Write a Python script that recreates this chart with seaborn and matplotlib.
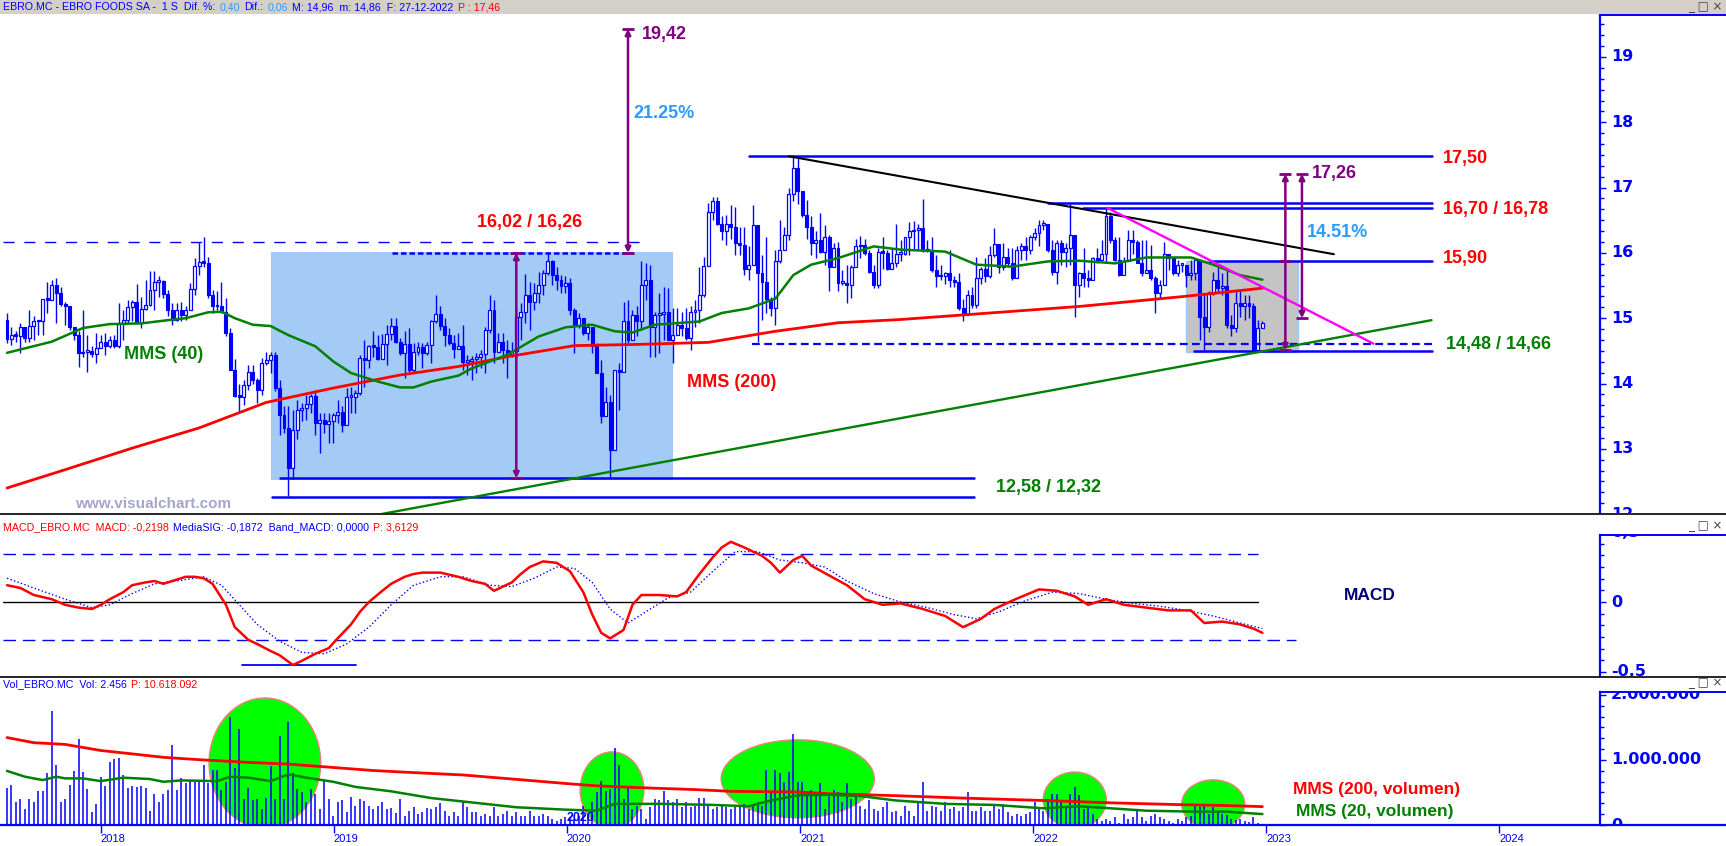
import numpy as np
import pandas as pd
import matplotlib
matplotlib.use('Agg')
import matplotlib.pyplot as plt
import matplotlib.dates as mdates
import seaborn as sns
from matplotlib.lines import Line2D
from matplotlib.patches import Rectangle, Ellipse
from matplotlib.text import Annotation
from matplotlib.ticker import MultipleLocator
from matplotlib.transforms import Bbox, TransformedBbox, blended_transform_factory

# ---------------- data ----------------
FIRST_WEEK = '2017-08-07'
FIRST_OPEN = 14.98

CLOSES = [
    14.68, 14.75, 14.73, 14.87, 14.70, 14.88, 14.95, 14.95, 15.29, 15.28,
    15.51, 15.39, 15.22, 15.18, 14.87, 14.74, 14.46, 14.49, 14.50, 14.45,
    14.54, 14.64, 14.57, 14.67, 14.57, 14.91, 14.98, 15.17, 15.25, 14.93,
    15.14, 15.20, 15.43, 15.56, 15.57, 15.37, 15.13, 14.97, 15.13, 15.05,
    15.13, 15.44, 15.80, 15.86, 15.85, 15.36, 15.18, 15.19, 15.10, 14.77,
    14.21, 13.81, 13.80, 13.98, 14.18, 14.06, 13.90, 14.32, 14.36, 14.43,
    13.93, 13.52, 13.32, 12.70, 13.29, 13.60, 13.62, 13.69, 13.81, 13.39,
    13.44, 13.38, 13.42, 13.52, 13.57, 13.37, 13.80, 13.80, 13.86, 14.39,
    14.36, 14.57, 14.56, 14.38, 14.60, 14.76, 14.88, 14.64, 14.46, 14.60,
    14.21, 14.49, 14.56, 14.47, 14.59, 14.95, 15.07, 14.88, 14.74, 14.62,
    14.53, 14.57,
    14.33, 14.35, 14.37, 14.41, 14.45, 14.82, 15.13, 14.49, 14.64, 14.52,
    14.45, 14.50, 15.02, 15.10, 15.36, 15.25, 15.38, 15.51, 15.69, 15.87,
    15.66, 15.59, 15.49, 15.54, 15.13, 14.90, 15.00, 14.77, 14.87, 14.57,
    14.16, 13.50, 13.72, 12.98, 14.21, 14.18, 14.95, 14.67, 15.05, 14.95,
    15.51, 15.59, 14.87, 15.05, 15.06, 15.10, 14.67, 14.75, 14.90, 14.85,
    14.70, 15.10, 15.13, 15.36, 15.80, 16.63, 16.79, 16.45, 16.33, 16.44,
    16.40, 16.15, 16.12, 15.75, 15.81, 16.43, 15.69, 15.56, 15.30, 15.15,
    15.87, 16.05, 16.27, 16.90, 17.30, 16.95, 16.58, 16.40, 16.15, 16.20,
    16.02, 16.25, 15.79, 16.07, 15.54, 15.54, 15.51, 15.79, 16.10, 16.12,
    16.00, 15.71, 15.51, 16.02, 16.00, 15.76, 15.84, 15.99,
    15.99, 16.25, 16.33, 16.35, 16.38, 16.04, 16.04, 15.74, 15.64, 15.64,
    15.69, 15.59, 15.56, 15.15, 15.05, 15.35, 15.20, 15.61, 15.76, 15.64,
    15.97, 16.14, 15.79, 15.94, 15.84, 15.61, 16.05, 16.10, 16.04, 16.25,
    16.30, 16.43, 16.45, 16.04, 15.71, 16.15, 16.02, 16.07, 16.27, 15.51,
    15.69, 15.61, 15.59, 15.92, 15.89, 15.99, 16.57, 16.20, 15.89, 15.66,
    15.87, 16.20, 16.17, 15.84, 15.69, 15.74, 15.61, 15.38, 15.51, 15.99,
    15.92, 15.69, 15.82, 15.82, 15.66, 15.69, 15.89, 15.02, 14.87, 15.38,
    15.59, 15.46, 15.49, 14.90, 14.85, 15.23, 15.19, 15.24, 15.18, 14.51,
    14.85, 14.92,
]

HIGHS = [
    15.08, 14.87, 14.80, 14.92, 14.77, 15.13, 15.03, 14.97, 15.29, 15.56,
    15.59, 15.61, 15.48, 15.25, 15.18, 14.85, 14.80, 15.13, 14.74, 14.57,
    14.77, 14.74, 14.78, 14.72, 14.74, 15.23, 15.13, 15.28, 15.28, 15.52,
    15.33, 15.59, 15.72, 15.72, 15.64, 15.59, 15.43, 15.23, 15.23, 15.25,
    15.18, 15.54, 15.92, 16.16, 16.25, 15.94, 15.43, 15.41, 15.56, 15.31,
    14.85, 14.37, 14.00, 14.06, 14.29, 14.29, 14.08, 14.39, 14.49, 14.49,
    14.49, 14.06, 13.65, 13.65, 13.60, 13.75, 13.70, 13.83, 13.84, 13.90,
    13.55, 13.55, 13.55, 13.55, 13.75, 13.65, 13.93, 13.95, 13.90, 14.44,
    14.67, 14.59, 14.80, 14.74, 14.76, 14.90, 15.00, 15.00, 14.69, 14.81,
    14.85, 14.62, 14.64, 14.62, 14.64, 14.97, 15.36, 15.18, 15.00, 14.85,
    14.74, 14.77,
    14.90, 14.44, 14.42, 14.46, 14.52, 14.87, 15.36, 15.28, 14.77, 14.77,
    14.67, 14.64, 15.18, 15.23, 15.68, 15.56, 15.54, 15.71, 15.74, 16.02,
    15.89, 15.79, 15.66, 15.64, 15.61, 15.15, 15.08, 15.00, 14.92, 14.87,
    14.62, 14.36, 13.95, 13.83, 14.21, 14.31, 15.25, 15.28, 15.13, 15.18,
    15.87, 15.84, 15.82, 15.10, 15.38, 15.48, 15.46, 15.15, 15.15, 15.10,
    15.15, 15.18, 15.28, 15.79, 15.94, 16.76, 16.86, 16.86, 16.56, 16.58,
    16.73, 16.71, 16.40, 16.40, 16.10, 16.73, 16.33, 15.97, 16.25, 15.33,
    16.05, 16.50, 16.40, 17.00, 17.50, 17.45, 16.85, 16.81, 16.56, 16.33,
    16.61, 16.43, 16.27, 16.15, 16.17, 15.74, 15.82, 15.82, 16.22, 16.26,
    16.22, 16.05, 15.82, 16.07, 16.25, 16.05, 16.07, 16.45,
    16.20, 16.25, 16.48, 16.49, 16.45, 16.82, 16.20, 16.25, 15.97, 15.82,
    15.71, 16.04, 15.64, 15.69, 15.30, 15.43, 15.48, 15.94, 15.79, 15.92,
    16.10, 16.38, 16.10, 16.15, 16.07, 16.07, 16.10, 16.15, 16.25, 16.27,
    16.38, 16.50, 16.50, 16.45, 16.20, 16.20, 16.20, 16.15, 16.76, 16.04,
    15.71, 16.07, 15.74, 15.94, 16.07, 16.20, 16.71, 16.63, 16.25, 16.25,
    15.94, 16.35, 16.35, 16.20, 16.20, 16.20, 16.12, 15.64, 15.59, 16.17,
    15.99, 15.92, 15.89, 15.82, 15.82, 15.89, 15.92, 15.89, 15.38, 15.41,
    15.71, 15.79, 15.69, 15.76, 15.05, 15.43, 15.41, 15.36, 15.36, 15.24,
    14.97, 14.96,
]

LOWS = [
    14.62, 14.59, 14.64, 14.46, 14.63, 14.64, 14.67, 14.74, 14.74, 15.08,
    15.33, 14.92, 15.19, 14.90, 14.82, 14.67, 14.25, 14.41, 14.18, 14.41,
    14.31, 14.54, 14.44, 14.54, 14.54, 14.54, 14.67, 14.92, 14.95, 14.92,
    14.85, 15.13, 15.18, 15.13, 15.33, 15.31, 15.03, 14.90, 14.95, 14.95,
    14.97, 15.13, 15.36, 15.66, 15.79, 15.31, 15.08, 15.13, 15.08, 14.72,
    14.21, 13.80, 13.55, 13.67, 13.90, 13.99, 13.70, 13.83, 14.29, 14.16,
    13.88, 13.21, 13.24, 12.27, 12.53, 13.15, 13.42, 13.44, 13.55, 13.21,
    12.94, 13.24, 13.09, 13.09, 13.39, 13.25, 13.42, 13.55, 13.55, 13.83,
    13.95, 14.23, 14.41, 14.36, 14.46, 14.29, 14.67, 14.62, 14.44, 14.08,
    14.18, 14.16, 14.44, 14.23, 14.44, 14.31, 14.92, 14.82, 14.57, 14.59,
    14.39, 14.54,
    14.21, 14.13, 14.06, 14.16, 14.23, 14.16, 14.77, 14.31, 14.52, 14.31,
    14.08, 14.41, 14.41, 14.67, 14.92, 14.82, 15.13, 15.23, 15.36, 15.66,
    15.51, 15.43, 15.38, 15.38, 15.05, 14.46, 14.85, 14.74, 14.67, 14.46,
    14.16, 13.39, 13.50, 12.55, 12.98, 13.60, 14.23, 14.62, 14.77, 14.72,
    14.82, 15.28, 14.41, 14.41, 14.46, 14.67, 14.67, 14.31, 14.77, 14.72,
    14.67, 14.52, 14.87, 14.92, 15.33, 15.94, 16.50, 16.43, 16.20, 16.12,
    16.22, 15.97, 15.97, 15.66, 15.59, 15.82, 14.64, 14.97, 15.08, 15.03,
    14.90, 15.84, 16.12, 16.20, 16.80, 16.75, 16.55, 16.22, 15.97, 15.92,
    16.00, 15.82, 15.41, 15.84, 15.41, 15.51, 15.23, 15.31, 15.99, 15.92,
    15.97, 15.69, 15.46, 15.46, 15.76, 15.74, 15.82, 15.79,
    15.87, 15.97, 15.97, 16.04, 16.04, 16.02, 16.02, 15.71, 15.48, 15.59,
    15.53, 15.48, 15.48, 15.13, 14.95, 15.10, 15.15, 15.15, 15.53, 15.56,
    15.61, 15.94, 15.69, 15.74, 15.79, 15.59, 15.61, 15.89, 15.89, 15.99,
    16.20, 16.10, 16.35, 16.02, 15.66, 15.53, 15.81, 15.79, 15.81, 15.02,
    15.33, 15.48, 15.48, 15.61, 15.84, 15.89, 15.85, 16.15, 15.87, 15.64,
    15.74, 15.94, 15.99, 15.84, 15.64, 15.69, 15.59, 15.08, 15.31, 15.64,
    15.74, 15.66, 15.64, 15.71, 15.48, 15.59, 15.59, 14.67, 14.51, 14.79,
    15.36, 15.38, 15.36, 14.85, 14.72, 14.79, 15.02, 14.97, 15.00, 14.49,
    14.49, 14.86,
]

# moving averages sampled along the drawn curves (week index, value)
MMS40_WEEK = [0, 10, 17, 23, 30, 36, 40, 45, 48, 51, 55, 59, 63, 69, 73, 77, 83, 88, 91, 95,
              101, 104, 112, 119, 125, 131, 136, 140, 145, 155, 160, 166, 172, 176, 180, 186,
              194, 200, 210, 217, 225, 233, 240, 248, 255, 265, 270, 276, 281]
MMS40 = [14.47, 14.64, 14.85, 14.91, 14.92, 14.97, 15.00, 15.09, 15.10, 15.00, 14.90, 14.88,
         14.74, 14.57, 14.34, 14.16, 14.03, 13.94, 13.94, 14.03, 14.12, 14.23, 14.44, 14.72,
         14.86, 14.90, 14.80, 14.78, 14.90, 14.95, 15.08, 15.15, 15.30, 15.66, 15.82, 15.92,
         16.10, 16.05, 16.02, 15.82, 15.79, 15.87, 15.88, 15.84, 15.93, 15.93, 15.82, 15.66, 15.59]
MMS200_WEEK = [0, 13, 28, 43, 58, 73, 88, 101, 112, 127, 142, 157, 172, 186, 200, 218, 240,
               263, 270, 281]
MMS200 = [12.40, 12.68, 13.01, 13.32, 13.71, 13.93, 14.13, 14.26, 14.41, 14.58, 14.60, 14.63,
          14.80, 14.93, 14.98, 15.07, 15.18, 15.33, 15.38, 15.46]

MACD_WEEK = [0, 3, 6, 10, 13, 16, 19, 21, 23, 26, 28, 31, 33, 35, 38, 40, 42, 44, 46, 49, 51,
             54, 56, 59, 61, 64, 66, 69, 72, 74, 77, 79, 81, 84, 86, 89, 91, 93, 97, 101, 104,
             107, 109, 113, 115, 117, 120, 123, 126, 129, 131, 133, 135, 138, 140, 142, 146,
             150, 152, 155, 158, 160, 162, 165, 169, 171, 173, 176, 178, 180, 184, 188, 192,
             196, 200, 205, 210, 214, 218, 221, 225, 228, 231, 235, 239, 242, 246, 250, 255,
             260, 265, 268, 272, 276, 279, 281]
MACD = [0.12, 0.10, 0.05, 0.02, -0.02, -0.04, -0.05, -0.02, 0.02, 0.07, 0.12, 0.14, 0.15, 0.13,
        0.16, 0.18, 0.18, 0.17, 0.13, -0.02, -0.18, -0.27, -0.30, -0.35, -0.38, -0.45, -0.42,
        -0.37, -0.33, -0.26, -0.16, -0.07, 0.0, 0.08, 0.13, 0.18, 0.20, 0.21, 0.21, 0.18, 0.15,
        0.13, 0.08, 0.14, 0.20, 0.25, 0.29, 0.28, 0.22, 0.07, -0.09, -0.22, -0.26, -0.20,
        -0.02, 0.05, 0.05, 0.04, 0.07, 0.20, 0.32, 0.39, 0.43, 0.39, 0.33, 0.28, 0.21, 0.30,
        0.33, 0.26, 0.19, 0.12, 0.02, -0.02, -0.01, -0.05, -0.10, -0.18, -0.12, -0.05, 0.01,
        0.05, 0.09, 0.08, 0.04, -0.02, 0.02, -0.02, -0.04, -0.06, -0.06, -0.15, -0.14, -0.16,
        -0.19, -0.22]
SIGNAL_WEEK = [0, 6, 13, 19, 23, 28, 33, 38, 44, 48, 52, 56, 61, 66, 71, 76, 81, 86, 91, 97,
               102, 108, 113, 118, 123, 127, 131, 135, 139, 143, 148, 153, 158, 163, 168, 173,
               178, 183, 188, 194, 200, 206, 212, 217, 222, 228, 234, 240, 246, 252, 258, 264,
               270, 276, 281]
SIGNAL = [0.17, 0.10, 0.02, -0.04, -0.02, 0.06, 0.13, 0.15, 0.18, 0.12, -0.02, -0.16, -0.28,
          -0.36, -0.37, -0.30, -0.18, -0.02, 0.12, 0.18, 0.18, 0.12, 0.11, 0.17, 0.25, 0.24,
          0.14, -0.05, -0.15, -0.07, 0.03, 0.07, 0.22, 0.36, 0.36, 0.30, 0.28, 0.25, 0.15, 0.06,
          0.0, -0.04, -0.09, -0.12, -0.07, 0.01, 0.07, 0.06, 0.02, -0.01, -0.03, -0.06, -0.10,
          -0.15, -0.19]

# weekly volume, thousands of shares
VOLUME = [
    571, 613, 351, 404, 247, 404, 351, 518, 518, 806,
    1753, 916, 351, 404, 613, 832, 1319, 822, 560, 205,
    325, 743, 597, 968, 1015, 1031, 770, 571, 602, 586,
    597, 571, 220, 482, 351, 482, 534, 1230, 534, 717,
    644, 691, 665, 691, 916, 639, 848, 848, 534, 665,
    1669, 874, 1476, 393, 571, 377, 404, 247, 414, 900,
    404, 1371, 404, 1580, 796, 560, 508, 351, 560, 482,
    247, 691, 404, 131, 351, 377, 194, 430, 299, 404,
    362, 288, 247, 299, 351, 247, 257, 184, 404, 142,
    220, 273, 168, 194, 257, 247, 273, 341, 220, 142,
    194, 142, 351, 273, 194, 194, 142, 168, 131, 273,
    142, 168, 220, 142, 205, 131, 131, 220, 131, 131,
    168, 142, 90, 60, 90, 120, 116, 90, 131, 299,
    168, 351, 508, 675, 518, 560, 1188, 926, 404, 586,
    247, 299, 247, 90, 273, 393, 377, 518, 377, 351,
    404, 273, 351, 273, 299, 414, 414, 299, 247, 273,
    299, 273, 247, 273, 273, 325, 247, 299, 351, 299,
    848, 508, 848, 796, 665, 822, 1397, 665, 665, 508,
    534, 482, 639, 247, 482, 534, 508, 351, 639, 404,
    445, 299, 247, 377, 247, 220, 273, 351, 194, 220,
    142, 299, 220, 142, 351, 654, 220, 299, 273, 220,
    351, 247, 273, 220, 273, 508, 220, 220, 273, 220,
    220, 299, 247, 325, 194, 142, 168, 142, 168, 194,
    351, 273, 220, 404, 482, 482, 377, 299, 482, 586,
    456, 247, 273, 168, 90, 63, 90, 63, 116, 37,
    168, 90, 116, 220, 116, 63, 142, 168, 116, 90,
    63, 37, 90, 63, 116, 142, 299, 273, 299, 168,
    273, 220, 168, 158, 90, 80, 90, 63, 52, 116,
    37, 3,
]
VOL_MMS200_WEEK = [0, 6, 13, 21, 28, 35, 43, 54, 63, 73, 82, 91, 102, 114, 125, 132, 143, 154,
                   162, 177, 184, 199, 214, 232, 247, 262, 273, 281]
VOL_MMS200 = [1345, 1266, 1240, 1146, 1094, 1041, 1005, 963, 937, 885, 838, 806, 770, 702, 639,
              602, 571, 545, 518, 508, 482, 451, 414, 377, 341, 314, 299, 283]
VOL_MMS20_WEEK = [0, 4, 8, 11, 13, 17, 21, 26, 32, 35, 39, 47, 50, 54, 59, 63, 67, 73, 78, 86,
                  95, 102, 114, 125, 132, 136, 147, 158, 166, 171, 177, 184, 191, 199, 210, 221,
                  232, 240, 247, 255, 266, 273, 281]
VOL_MMS20 = [832, 743, 691, 743, 717, 717, 675, 728, 707, 665, 686, 675, 743, 728, 675, 780, 728,
             665, 586, 518, 414, 362, 273, 236, 220, 325, 325, 309, 288, 377, 456, 466, 445, 377,
             325, 309, 257, 288, 257, 220, 205, 205, 168]

# drawn studies on the price panel
SOLID_LEVELS = [17.49, 16.77, 16.68, 15.88, 14.50, 12.55, 12.26]
SOLID_FROM = ['2020-10-13', '2022-01-24', '2022-03-20', '2022-10-05', '2022-09-10',
              '2018-10-08', '2018-09-26']
SOLID_TO = ['2023-09-17', '2023-09-17', '2023-09-17', '2023-09-17', '2023-09-17',
            '2021-09-30', '2021-09-30']
RESIST_OLD = 16.17
RESIST_OLD_SPAN = ['2017-07-31', '2020-05-01']
RANGE_TOP = 16.00
RANGE_TOP_SPAN = ['2019-04-02', '2020-04-14']
SUPPORT_DASH = 14.61
SUPPORT_DASH_SPAN = ['2020-10-17', '2023-09-17']

GREEN_TREND = (['2019-03-05', '2023-09-17'], [11.98, 14.97])
BLACK_TREND = (['2020-12-14', '2023-04-17'], [17.48, 15.98])
PINK_TREND = (['2022-04-27', '2023-06-18'], [16.69, 14.61])

RANGE_BOX = (['2018-09-24', '2020-06-16'], [12.52, 16.01])
FLAG_BOX = (['2022-08-29', '2023-02-20'], [14.49, 15.88])

ARROW_DATES = ['2019-10-14', '2020-04-06', '2023-01-31', '2023-02-26']
ARROW_LOW = [12.55, 16.00, 14.51, 15.00]
ARROW_HIGH = [16.00, 19.43, 17.21, 17.21]

MACD_UPPER, MACD_LOWER, MACD_FLOOR = 0.345, -0.268, -0.45

ELLIPSE_DATES = ['2018-09-15', '2020-03-12', '2020-12-28', '2022-03-07', '2022-10-10']
ELLIPSE_VOL = [0.954e6, 0.54e6, 0.71e6, 0.385e6, 0.32e6]
ELLIPSE_DAYS = [175, 100, 240, 99, 99]
ELLIPSE_SPAN = [2.0e6, 1.17e6, 1.2e6, 0.86e6, 0.75e6]

YEARS = [2018, 2019, 2020, 2021, 2022, 2023, 2024]
PRICE_TICKS = [12, 13, 14, 15, 16, 17, 18, 19]
MACD_TICKS = [0.5, 0.0, -0.5]
MACD_TICK_TEXT = ['0,5', '0', '-0,5']
VOL_TICKS = [2e6, 1e6, 0]
VOL_TICK_TEXT = ['2.000.000', '1.000.000', '0']

# ---------------- drawing ----------------
BLUE = '#0000FF'
RED = '#FF0000'
GREEN = '#008000'
PURPLE = '#800080'
SKY = '#2E9AFE'

sns.set_style('white')
plt.rcParams['font.family'] = ['Liberation Sans', 'DejaVu Sans']

W, H = 1726, 846
fig = plt.figure(figsize=(W / 100, H / 100), dpi=100)


def d(s):
    return mdates.date2num(pd.Timestamp(s))


def week_x(idx):
    base = pd.Timestamp(FIRST_WEEK)
    return mdates.date2num(base + pd.to_timedelta(np.asarray(idx) * 7, unit='D'))


def panel(y0, y1):
    return fig.add_axes([0, 1 - y1 / H, 1600 / W, (y1 - y0) / H])


def figline(x0, x1, y, color, lw=1.0):
    fig.add_artist(Line2D([x0 / W, x1 / W], [1 - y / H, 1 - y / H],
                          transform=fig.transFigure, color=color, lw=lw))


def header(y, parts, size=7.7):
    # chain coloured pieces one after another on one line
    prev = fig.text(3 / W, 1 - y / H, parts[0][0], color=parts[0][1], fontsize=size,
                    va='center', ha='left')
    for s, c in parts[1:]:
        a = Annotation(s, xy=(1, 0.5), xycoords=prev, xytext=(3.0, 0),
                       textcoords='offset points', va='center', ha='left', color=c,
                       fontsize=size)
        fig.add_artist(a)
        prev = a


def style_axis(ax, major, minor, ylim):
    for s in ['left', 'top', 'bottom']:
        ax.spines[s].set_visible(False)
    ax.spines['right'].set_color(BLUE)
    ax.spines['right'].set_linewidth(1.6)
    ax.yaxis.tick_right()
    ax.yaxis.set_major_locator(MultipleLocator(major))
    ax.yaxis.set_minor_locator(MultipleLocator(minor))
    ax.tick_params(axis='y', which='major', length=4.5, width=1, color=BLUE, labelright=False)
    ax.tick_params(axis='y', which='minor', length=3, width=1, color=BLUE)
    ax.tick_params(axis='x', bottom=False, labelbottom=False)
    ax.set_xlim(d('2017-07-27'), d('2024-06-07'))
    ax.set_ylim(*ylim)
    ax.set_facecolor('white')


def tick_texts(ax, values, texts, ytop, ybot):
    tr = blended_transform_factory(fig.transFigure, ax.transData)
    clip = TransformedBbox(Bbox([[1600 / W, 1 - ybot / H], [1, 1 - ytop / H]]), fig.transFigure)
    for v, t in zip(values, texts):
        txt = fig.text(1611 / W, v, t, transform=tr, ha='left', va='center', color=BLUE,
                       fontsize=11.5, fontweight='bold', family='DejaVu Sans')
        txt.set_clip_box(clip)
        txt.set_clip_on(True)


# window chrome
fig.patches.append(Rectangle((0, 1 - 14 / H), 1, 14 / H, transform=fig.transFigure,
                             facecolor='#D4D0C8', edgecolor='none'))
for yb in [7, 526, 683]:
    fig.text(1688 / W, 1 - yb / H, '_ \u25a1 \u00d7', fontsize=8.5, color='#404040',
             va='center', family='DejaVu Sans')
figline(0, W, 513.5, 'black', 1.2)
figline(0, W, 676.5, 'black', 1.2)
figline(1600, W, 15, BLUE, 1.4)
figline(1600, W, 535, BLUE, 1.4)
figline(1600, W, 692, BLUE, 1.4)
figline(1600, W, 825, BLUE, 1.6)

# panel headers
header(7.5, [('EBRO.MC - EBRO FOODS SA -  1 S  Dif. %:', BLUE), ('0,40', SKY),
             ('Dif.:', BLUE), ('0,06', SKY), ('M: 14,96  m: 14,86  F: 27-12-2022', BLUE),
             ('P : 17,46', RED)])
header(527.5, [('MACD_EBRO.MC  MACD: -0,2198', RED),
               ('MediaSIG: -0,1872  Band_MACD: 0,0000', BLUE), ('P: 3,6129', RED)])
header(684.5, [('Vol_EBRO.MC  Vol: 2.456', BLUE), ('P: 10.618.092', RED)])

# ---------------- price panel ----------------
ax = panel(15, 513)
style_axis(ax, 1, 1 / 6, (12.017, 19.643))

xw = week_x(np.arange(len(CLOSES)))
closes = np.array(CLOSES)
opens = np.r_[FIRST_OPEN, closes[:-1]]
highs = np.maximum(np.array(HIGHS), np.maximum(opens, closes))
lows = np.minimum(np.array(LOWS), np.minimum(opens, closes))

ax.add_patch(Rectangle((d(RANGE_BOX[0][0]), RANGE_BOX[1][0]),
                       d(RANGE_BOX[0][1]) - d(RANGE_BOX[0][0]), RANGE_BOX[1][1] - RANGE_BOX[1][0],
                       facecolor='#A3CBF6', edgecolor='none', zorder=1))
ax.add_patch(Rectangle((d(FLAG_BOX[0][0]), FLAG_BOX[1][0]),
                       d(FLAG_BOX[0][1]) - d(FLAG_BOX[0][0]), FLAG_BOX[1][1] - FLAG_BOX[1][0],
                       facecolor='#C4C4C4', edgecolor='#9CCBF5', lw=1, zorder=1))

ax.vlines(xw, lows, highs, color=BLUE, lw=1, zorder=3)
down = closes < opens
body_lo = np.minimum(opens, closes)
body_h = np.maximum(np.abs(closes - opens), 0.025)
ax.bar(xw[down], body_h[down], bottom=body_lo[down], width=4.6, color=BLUE,
       edgecolor=BLUE, lw=0.8, zorder=4)
ax.bar(xw[~down], body_h[~down], bottom=body_lo[~down], width=4.6, color='white',
       edgecolor=BLUE, lw=0.9, zorder=4)

sns.lineplot(x=week_x(MMS200_WEEK), y=MMS200, ax=ax, color=RED, lw=2.0, zorder=5)
sns.lineplot(x=week_x(MMS40_WEEK), y=MMS40, ax=ax, color=GREEN, lw=1.8, zorder=5)

for lvl, a, b in zip(SOLID_LEVELS, SOLID_FROM, SOLID_TO):
    ax.plot([d(a), d(b)], [lvl, lvl], color=BLUE, lw=1.8, zorder=6)
ax.plot([d(s) for s in RESIST_OLD_SPAN], [RESIST_OLD] * 2, color=BLUE, lw=1.0,
        dashes=(8, 7), zorder=6)
ax.plot([d(s) for s in RANGE_TOP_SPAN], [RANGE_TOP] * 2, color=BLUE, lw=1.8,
        dashes=(2.2, 1.2), zorder=6)
ax.plot([d(s) for s in SUPPORT_DASH_SPAN], [SUPPORT_DASH] * 2, color=BLUE, lw=1.6,
        dashes=(3.5, 2), zorder=6)

ax.plot([d(s) for s in GREEN_TREND[0]], GREEN_TREND[1], color=GREEN, lw=1.7, zorder=6)
ax.plot([d(s) for s in BLACK_TREND[0]], BLACK_TREND[1], color='black', lw=1.5, zorder=6)
ax.plot([d(s) for s in PINK_TREND[0]], PINK_TREND[1], color='#FF00FF', lw=1.7, zorder=6)

for dt, lo, hi in zip(ARROW_DATES, ARROW_LOW, ARROW_HIGH):
    xd = d(dt)
    ax.annotate('', xy=(xd, hi), xytext=(xd, lo), zorder=7,
                arrowprops=dict(arrowstyle='<|-|>', color=PURPLE, lw=1.8,
                                mutation_scale=8, shrinkA=0, shrinkB=0))
    ax.plot([xd, xd], [lo, hi], ls='none', marker='_', ms=8, mew=2, color=PURPLE, zorder=7)
ax.plot([d(ARROW_DATES[2])], [SOLID_LEVELS[3]], ls='none', marker='_', ms=8, mew=2,
        color=PURPLE, zorder=7)

big = dict(fontsize=13, fontweight='bold', va='center', ha='left', zorder=8)
ax.text(d('2023-10-05'), 17.45, '17,50', color=RED, **big)
ax.text(d('2023-10-05'), 16.67, '16,70 / 16,78', color=RED, **big)
ax.text(d('2023-10-05'), 15.91, '15,90', color=RED, **big)
ax.text(d('2023-10-10'), 14.59, '14,48 / 14,66', color=GREEN, **big)
ax.text(d('2023-03-14'), 17.22, '17,26', color=PURPLE, **big)
ax.text(d('2023-03-06'), 16.32, '14.51%', color=SKY, **big)
ax.text(d('2020-04-28'), 19.35, '19,42', color=PURPLE, **big)
ax.text(d('2020-04-14'), 18.14, '21.25%', color=SKY, **big)
ax.text(d('2019-08-13'), 16.47, '16,02 / 16,26', color=RED, **big)
ax.text(d('2018-02-06'), 14.44, 'MMS (40)', color=GREEN, **big)
ax.text(d('2020-07-07'), 14.01, 'MMS (200)', color=RED, **big)
ax.text(d('2021-11-04'), 12.40, '12,58 / 12,32', color=GREEN, **big)
ax.text(d('2017-11-21'), 12.15, 'www.visualchart.com', color='#A4A6CC', fontsize=11,
        fontweight='bold', va='center', ha='left', zorder=8)
tick_texts(ax, PRICE_TICKS, [str(t) for t in PRICE_TICKS], 15, 513)

# ---------------- MACD panel ----------------
axm = panel(535, 676)
style_axis(axm, 0.5, 0.5 / 6, (-0.5286, 0.4786))
x0, x1, x2 = d('2017-07-31'), d('2022-12-19'), d('2023-02-17')
axm.plot([x0, x1], [MACD_UPPER] * 2, color=BLUE, lw=1, dashes=(9, 5))
axm.plot([x0, x2], [MACD_LOWER] * 2, color=BLUE, lw=1, dashes=(9, 5))
axm.plot([x0, x1], [0, 0], color='black', lw=1)
axm.plot([d('2018-08-10'), d('2019-02-05')], [MACD_FLOOR] * 2, color=BLUE, lw=1.3)
sns.lineplot(x=week_x(SIGNAL_WEEK), y=SIGNAL, ax=axm, color=BLUE, lw=1.0, linestyle=':')
sns.lineplot(x=week_x(MACD_WEEK), y=MACD, ax=axm, color=RED, lw=1.8)
axm.text(d('2023-05-03'), 0.043, 'MACD', color='#000080', fontsize=12.5, fontweight='bold',
         va='center', ha='left')
tick_texts(axm, MACD_TICKS, MACD_TICK_TEXT, 535, 676)

# ---------------- volume panel ----------------
axv = panel(692, 825)
style_axis(axv, 1e6, 1e6 / 6, (0, 2.046e6))
axv.spines['bottom'].set_visible(True)
axv.spines['bottom'].set_color(BLUE)
axv.spines['bottom'].set_linewidth(1.6)

for dt, v, wd, hv in zip(ELLIPSE_DATES, ELLIPSE_VOL, ELLIPSE_DAYS, ELLIPSE_SPAN):
    axv.add_patch(Ellipse((d(dt), v), wd, hv, facecolor='#00FF00', edgecolor='#F08080',
                          lw=1, zorder=1))
xv = week_x(np.arange(len(VOLUME)))
axv.vlines(xv, 0, np.array(VOLUME) * 1000, color=BLUE, lw=1.1, zorder=3)
sns.lineplot(x=week_x(VOL_MMS200_WEEK), y=np.array(VOL_MMS200) * 1000, ax=axv, color=RED,
             lw=2.0, zorder=4)
sns.lineplot(x=week_x(VOL_MMS20_WEEK), y=np.array(VOL_MMS20) * 1000, ax=axv, color=GREEN,
             lw=1.8, zorder=4)
axv.text(d('2020-01-01'), 0.02e6, '2020', color=BLUE, fontsize=9, fontweight='bold',
         va='bottom', ha='left', zorder=5)
axv.text(d('2023-02-12'), 0.54e6, 'MMS (200, volumen)', color=RED, fontsize=12.5,
         fontweight='bold', va='center', ha='left')
axv.text(d('2023-02-17'), 0.20e6, 'MMS (20, volumen)', color=GREEN, fontsize=12.5,
         fontweight='bold', va='center', ha='left')

axv.set_xticks([d(f'{y}-01-01') for y in YEARS])
axv.set_xticklabels([str(y) for y in YEARS], ha='left')
axv.tick_params(axis='x', bottom=True, labelbottom=True, direction='out', length=6,
                width=1, color=BLUE, labelcolor=BLUE, labelsize=8, pad=0.5)
tick_texts(axv, VOL_TICKS, VOL_TICK_TEXT, 692, 825)

for a in (ax, axm, axv):
    a.set_xlabel('')
    a.set_ylabel('')

fig.savefig('out.png', dpi=100)
